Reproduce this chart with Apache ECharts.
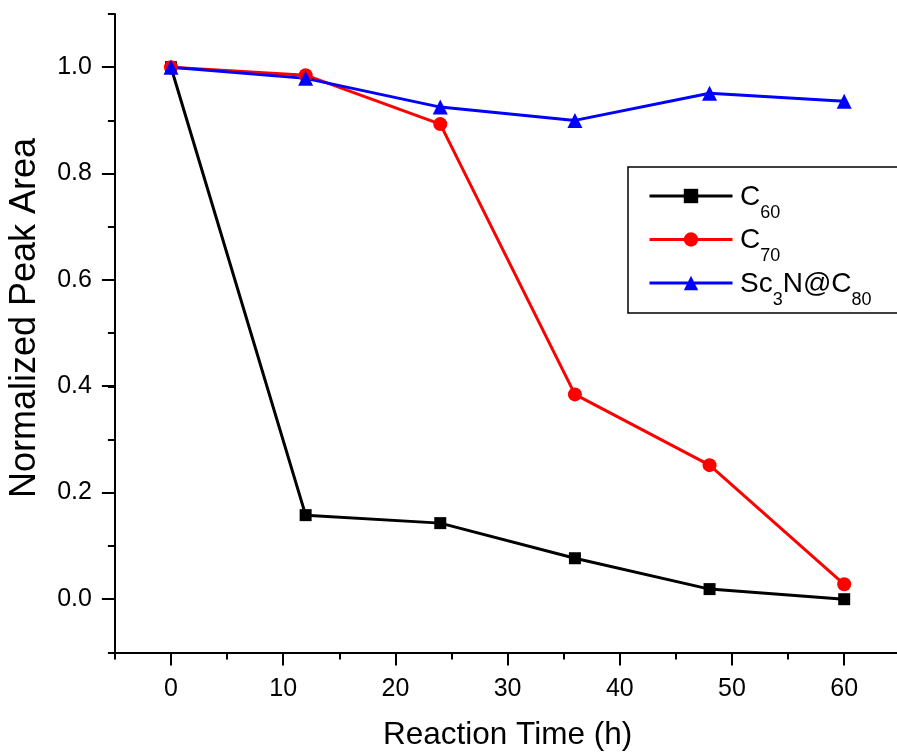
<!DOCTYPE html>
<html>
<head>
<meta charset="utf-8">
<script src="https://cdn.jsdelivr.net/npm/echarts@6/dist/echarts.min.js"></script>
<style>
  html, body { margin: 0; padding: 0; background: #fff; }
  #chart { width: 897px; height: 755px; }
</style>
</head>
<body>
<div id="chart"></div>
<script>
(function() {
  var font = '"Liberation Sans", Arial, sans-serif';

  // data
  var hours = [0, 12, 24, 36, 48, 60];
  var c60 = [1.0, 0.158, 0.143, 0.077, 0.019, 0.0];
  var c70 = [1.0, 0.985, 0.893, 0.385, 0.252, 0.028];
  var sc3n = [1.0, 0.979, 0.925, 0.900, 0.951, 0.936];
  var yTicks = [0.0, 0.2, 0.4, 0.6, 0.8, 1.0];
  var xTicks = [0, 10, 20, 30, 40, 50, 60];
  var names = ['C60', 'C70', 'Sc3N@C80'];
  // legend labels split into normal / subscript pieces
  var labelParts = [
    [['C', 0], ['60', 1]],
    [['C', 0], ['70', 1]],
    [['Sc', 0], ['3', 1], ['N@C', 0], ['80', 1]]
  ];

  function pairs(vals) {
    return hours.map(function(h, i) { return [h, vals[i]]; });
  }

  // legend text drawn as graphic text so the subscripts sit low like the original
  var mainSize = 28, subSize = 18;
  var ctx = document.createElement('canvas').getContext('2d');
  function textWidth(t, size) {
    ctx.font = size + 'px ' + font;
    return ctx.measureText(t).width;
  }
  var legendLabels = [];
  var rowY = [196, 239, 283];
  labelParts.forEach(function(parts, r) {
    var x = 740;
    parts.forEach(function(p) {
      var size = p[1] ? subSize : mainSize;
      legendLabels.push({
        type: 'text',
        x: x,
        y: rowY[r] + (p[1] ? 17 : 1),
        silent: true,
        style: {
          text: p[0],
          font: size + 'px ' + font,
          fill: '#000',
          align: 'left',
          verticalAlign: 'middle'
        }
      });
      x += textWidth(p[0], size);
    });
  });

  var chart = echarts.init(document.getElementById('chart'), null, { renderer: 'canvas' });

  var axisLine = { show: true, onZero: false, lineStyle: { color: '#000', width: 2 } };

  chart.setOption({
    animation: false,
    backgroundColor: '#fff',
    textStyle: { fontFamily: font },
    grid: [
      // full axis frame (-5..65, -0.1..1.1), minor ticks
      { left: 114.9, top: 14, width: 785.4, height: 638.4, outerBoundsMode: 'none', containLabel: false },
      // labelled range (0..60, 0..1), major ticks + labels
      { left: 171, top: 67, width: 673.2, height: 532, outerBoundsMode: 'none', containLabel: false }
    ],
    xAxis: [
      {
        gridIndex: 0, type: 'value', min: -5, max: 65, interval: 5,
        axisLine: axisLine,
        axisTick: { length: 7, lineStyle: { color: '#000', width: 2 } },
        axisLabel: { show: false },
        splitLine: { show: false }
      },
      {
        gridIndex: 1, type: 'value', min: xTicks[0], max: xTicks[xTicks.length - 1], interval: 10,
        offset: 53.4,
        axisLine: { show: false, onZero: false },
        axisTick: { length: 13, lineStyle: { color: '#000', width: 2 } },
        axisLabel: { color: '#000', fontSize: 25, margin: 24, fontFamily: font },
        splitLine: { show: false },
        name: 'Reaction Time (h)',
        nameLocation: 'middle',
        nameGap: 67,
        nameMoveOverlap: false,
        nameTextStyle: { color: '#000', fontSize: 31.5, fontFamily: font }
      }
    ],
    yAxis: [
      {
        gridIndex: 0, type: 'value', min: -0.1, max: 1.1, interval: 0.1,
        axisLine: axisLine,
        axisTick: { length: 7, lineStyle: { color: '#000', width: 2 } },
        axisLabel: { show: false },
        splitLine: { show: false }
      },
      {
        gridIndex: 1, type: 'value', min: yTicks[0], max: yTicks[yTicks.length - 1], interval: 0.2,
        offset: 56.1,
        axisLine: { show: false, onZero: false },
        axisTick: { length: 13, lineStyle: { color: '#000', width: 2 } },
        axisLabel: {
          color: '#000', fontSize: 25, margin: 23, fontFamily: font,
          formatter: function(v) { return v.toFixed(1); }
        },
        splitLine: { show: false },
        name: 'Normalized Peak Area',
        nameLocation: 'middle',
        nameGap: 72,
        nameMoveOverlap: false,
        nameTextStyle: { color: '#000', fontSize: 36, fontFamily: font, padding: [0, 0, 0, 30] }
      }
    ],
    legend: {
      orient: 'vertical',
      left: 628,
      top: 167,
      padding: [11, 200, 12, 20],
      itemWidth: 83,
      itemHeight: 18,
      itemGap: 7.5,
      borderColor: '#000',
      borderWidth: 1.5,
      lineStyle: { width: 3 },
      data: names,
      formatter: function() { return ' '; },
      textStyle: { color: '#000', fontFamily: font, fontSize: 28, lineHeight: 36 }
    },
    graphic: legendLabels,
    series: [
      {
        name: names[0], type: 'line', xAxisIndex: 0, yAxisIndex: 0,
        data: pairs(c60),
        symbol: 'rect', symbolSize: 12,
        itemStyle: { color: '#000' },
        lineStyle: { color: '#000', width: 3 }
      },
      {
        name: names[1], type: 'line', xAxisIndex: 0, yAxisIndex: 0,
        data: pairs(c70),
        symbol: 'circle', symbolSize: 14,
        itemStyle: { color: '#ff0000' },
        lineStyle: { color: '#ff0000', width: 3 }
      },
      {
        name: names[2], type: 'line', xAxisIndex: 0, yAxisIndex: 0,
        data: pairs(sc3n),
        symbol: 'triangle', symbolSize: 15,
        itemStyle: { color: '#0000ff' },
        lineStyle: { color: '#0000ff', width: 3 }
      }
    ]
  });
  window.addEventListener('resize', function() { chart.resize(); });
})();
</script>
</body>
</html>
